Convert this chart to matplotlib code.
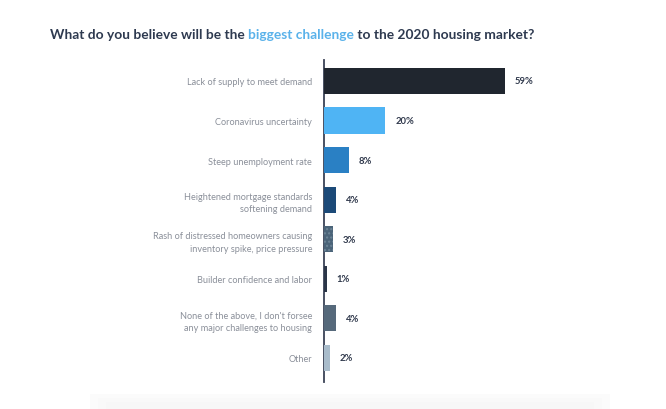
import matplotlib
matplotlib.use("Agg")
import matplotlib.pyplot as plt
from matplotlib.patches import Rectangle

categories = [
    "Lack of supply to meet demand",
    "Coronavirus uncertainty",
    "Steep unemployment rate",
    "Heightened mortgage standards\nsoftening demand",
    "Rash of distressed homeowners causing\ninventory spike, price pressure",
    "Builder confidence and labor",
    "None of the above, I don't forsee\nany major challenges to housing",
    "Other",
]
values = [59, 20, 8, 4, 3, 1, 4, 2]
value_labels = ["59%", "20%", "8%", "4%", "3%", "1%", "4%", "2%"]
colors = ["#20262f", "#4fb4f4", "#2a80c4", "#1c4a78", "#4b6479", "#2b3648", "#56697b", "#a9bccb"]
title_parts = ["What do you believe will be the ", "biggest challenge", " to the 2020 housing market?"]
title_colors = ["#2e3a50", "#5ab2ea", "#2e3a50"]

W, H = 666, 410
fig = plt.figure(figsize=(W / 100, H / 100), dpi=100)
fig.patch.set_facecolor("white")

# bottom faint band
bg = fig.add_axes([0, 0, 1, 1], zorder=-5)
bg.set_xlim(0, W); bg.set_ylim(H, 0); bg.axis("off")
for i, c in enumerate(["#fbfbfb", "#f9f9f9", "#f7f7f7"]):
    bg.add_patch(Rectangle((90 + i * 8, 395 + i * 4), 520 - i * 16, 20, color=c, lw=0))

x0, x1 = 324, 560
y0, y1 = 61, 383
ax = fig.add_axes([x0 / W, 1 - y1 / H, (x1 - x0) / W, (y1 - y0) / H])
ax.set_xlim(0, (x1 - x0) / 3.07)
ax.set_ylim(7.61, -0.53)
ypos = list(range(len(values)))
bars = ax.barh(ypos, values, height=0.66, color=colors, edgecolor="none", zorder=3)
bars[4].set_hatch("....")
bars[4].set_edgecolor("#6d8597")
bars[4].set_linewidth(0)

for s in ["top", "right", "bottom"]:
    ax.spines[s].set_visible(False)
ax.spines["left"].set_color("#3a4256")
ax.spines["left"].set_linewidth(1.3)
ax.set_xticks([])
ax.set_yticks(ypos)
ax.set_yticklabels(categories, fontsize=6.6, color="#8a8f99", family="Lato", linespacing=1.5)
ax.tick_params(axis="y", length=0, pad=8.5)
for lab in ax.get_yticklabels():
    lab.set_horizontalalignment("right")

for yp, v, lbl in zip(ypos, values, value_labels):
    ax.annotate(lbl, (v, yp), xytext=(7, 0), textcoords="offset points",
                va="center", ha="left", fontsize=6.8, fontweight="bold",
                color="#2f384b", family="Lato")

# multi-colored title
renderer = fig.canvas.get_renderer()
x = 50 / W
for part, col in zip(title_parts, title_colors):
    t = fig.text(x, 1 - 35 / H, part, fontsize=9.9, fontweight="bold", color=col,
                 family="Lato", va="center", ha="left")
    bb = t.get_window_extent(renderer=renderer)
    x = (bb.x1) / W

fig.savefig("out.png", dpi=100, facecolor="white")
